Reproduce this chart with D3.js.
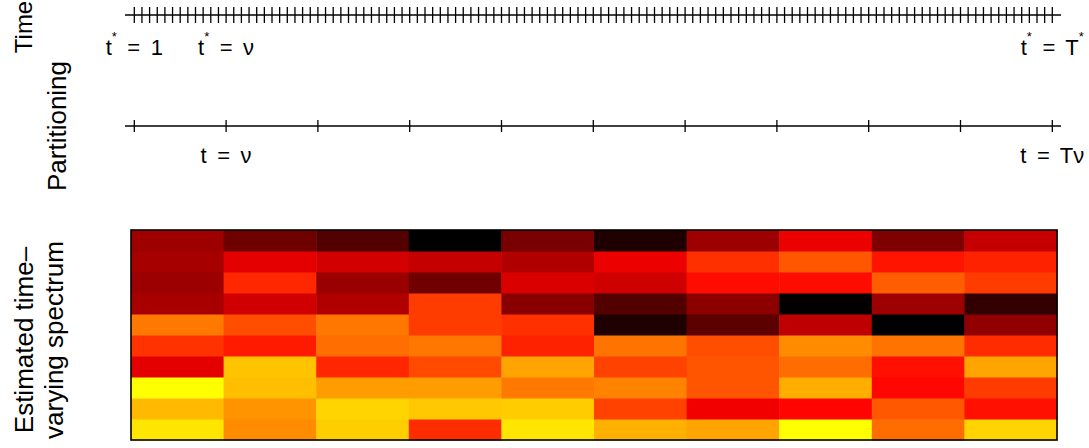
<!DOCTYPE html>
<html>
<head>
<meta charset="utf-8">
<script src="https://cdn.jsdelivr.net/npm/d3@7"></script>
<style>
  body { margin: 0; background: #fff; }
  text { font-family: "Liberation Sans", Arial, sans-serif; fill: #000; }
</style>
</head>
<body>
<svg id="chart"></svg>
<script>
// time points t* = 0..T*, partition blocks of length nu
const nu = 12;
const nBlocks = 10;
const timeTicks = d3.range(0, nu * nBlocks + 1);
const partitionTicks = d3.range(0, nu * nBlocks + 1, nu);

const timeLabels = [
  { t: 0, base: "t", sup: "*", rest: " = 1" },
  { t: 12, base: "t", sup: "*", rest: " = \u03bd" },
  { t: 120, base: "t", sup: "*", rest: " = T", sup2: "*" }
];
const partitionLabels = [
  { t: 12, text: "t = \u03bd" },
  { t: 120, text: "t = T\u03bd" }
];

// estimated spectrum per block, frequencies low -> high (bottom -> top), scaled 0..1
const blocks = ["1", "2", "3", "4", "5", "6", "7", "8", "9", "10"];
const freqs = ["f1", "f2", "f3", "f4", "f5", "f6", "f7", "f8", "f9", "f10"];
const spectrum = [
  [0.951, 0.865, 1.000, 0.447, 0.598, 0.735, 0.330, 0.306, 0.325, 0.310],
  [0.775, 0.790, 0.873, 0.882, 0.551, 0.653, 0.408, 0.575, 0.447, 0.216],
  [0.904, 0.916, 0.806, 0.575, 0.716, 0.731, 0.345, 0.302, 0.412, 0.161],
  [0.586, 0.892, 0.806, 0.645, 0.731, 0.618, 0.618, 0.220, 0.384, 0.000],
  [0.951, 0.900, 0.735, 0.822, 0.567, 0.594, 0.267, 0.427, 0.345, 0.235],
  [0.845, 0.629, 0.755, 0.629, 0.727, 0.059, 0.161, 0.404, 0.463, 0.059],
  [0.822, 0.475, 0.665, 0.665, 0.653, 0.180, 0.275, 0.524, 0.594, 0.306],
  [1.000, 0.508, 0.841, 0.712, 0.775, 0.373, 0.008, 0.524, 0.669, 0.463],
  [0.712, 0.673, 0.512, 0.531, 0.727, 0.000, 0.306, 0.684, 0.539, 0.247],
  [0.916, 0.531, 0.618, 0.822, 0.586, 0.282, 0.098, 0.618, 0.567, 0.388]
];

const width = 1089, height = 448;
const svg = d3.select("#chart").attr("width", width).attr("height", height);

const x = d3.scaleLinear().domain([0, nu * nBlocks]).range([134.3, 1052.3]);
const color = d3.scaleLinear().domain([0, 0.5, 1]).range(["#000000", "#ff0000", "#ffff00"]);
const eq = s => s.replace(" = ", " \u2009=\u2009 ");

// ---- Time axis
const timeY = 15;
svg.append("line")
  .attr("x1", 125).attr("x2", 1061).attr("y1", timeY).attr("y2", timeY)
  .attr("stroke", "#000").attr("stroke-width", 1.3);
svg.append("g").selectAll("line")
  .data(timeTicks)
  .join("line")
    .attr("x1", d => x(d)).attr("x2", d => x(d))
    .attr("y1", timeY - 8).attr("y2", timeY + 8)
    .attr("stroke", "#000").attr("stroke-width", 1.3);

const tl = svg.append("g").selectAll("text")
  .data(timeLabels)
  .join("text")
    .attr("x", d => x(d.t))
    .attr("y", 55)
    .attr("text-anchor", "middle")
    .attr("font-size", 22)
    .attr("xml:space", "preserve");
tl.append("tspan").text(d => d.base);
tl.append("tspan").attr("dy", -14).attr("font-size", 13).text(d => d.sup);
tl.append("tspan").attr("dy", 14).text(d => eq(d.rest));
tl.filter(d => d.sup2).append("tspan").attr("dy", -14).attr("font-size", 13).text(d => d.sup2);

// ---- Partition axis
const partY = 126;
svg.append("line")
  .attr("x1", 125).attr("x2", 1061).attr("y1", partY).attr("y2", partY)
  .attr("stroke", "#000").attr("stroke-width", 1.3);
svg.append("g").selectAll("line")
  .data(partitionTicks)
  .join("line")
    .attr("x1", d => x(d)).attr("x2", d => x(d))
    .attr("y1", partY - 6).attr("y2", partY + 6)
    .attr("stroke", "#000").attr("stroke-width", 1.3);
svg.append("g").selectAll("text")
  .data(partitionLabels)
  .join("text")
    .attr("x", d => x(d.t))
    .attr("y", 163)
    .attr("text-anchor", "middle")
    .attr("font-size", 22)
    .attr("xml:space", "preserve")
    .text(d => eq(d.text));

// ---- Heatmap
const hx = d3.scaleBand().domain(blocks).range([131, 1057]);
const hy = d3.scaleBand().domain(freqs).range([440, 230]);
const cells = [];
spectrum.forEach((col, i) => col.forEach((v, j) => cells.push({ b: blocks[i], f: freqs[j], v })));
svg.append("g").selectAll("rect")
  .data(cells)
  .join("rect")
    .attr("x", d => hx(d.b))
    .attr("y", d => hy(d.f))
    .attr("width", hx.bandwidth() + 0.5)
    .attr("height", hy.bandwidth() + 0.5)
    .attr("fill", d => color(d.v));
svg.append("rect")
  .attr("x", 131).attr("y", 230).attr("width", 926).attr("height", 210)
  .attr("fill", "none").attr("stroke", "#000").attr("stroke-width", 1.6);

// ---- Left titles
function vlabel(txt, xb, yc, fs) {
  svg.append("text")
    .attr("transform", `translate(${xb},${yc}) rotate(-90)`)
    .attr("text-anchor", "middle")
    .attr("font-size", fs)
    .text(txt);
}
vlabel("Time", 32, 27, 24);
vlabel("Partitioning", 66, 126, 26);
vlabel("Estimated time\u2013", 33, 340, 26);
vlabel("varying spectrum", 63, 340, 26);
</script>
</body>
</html>
